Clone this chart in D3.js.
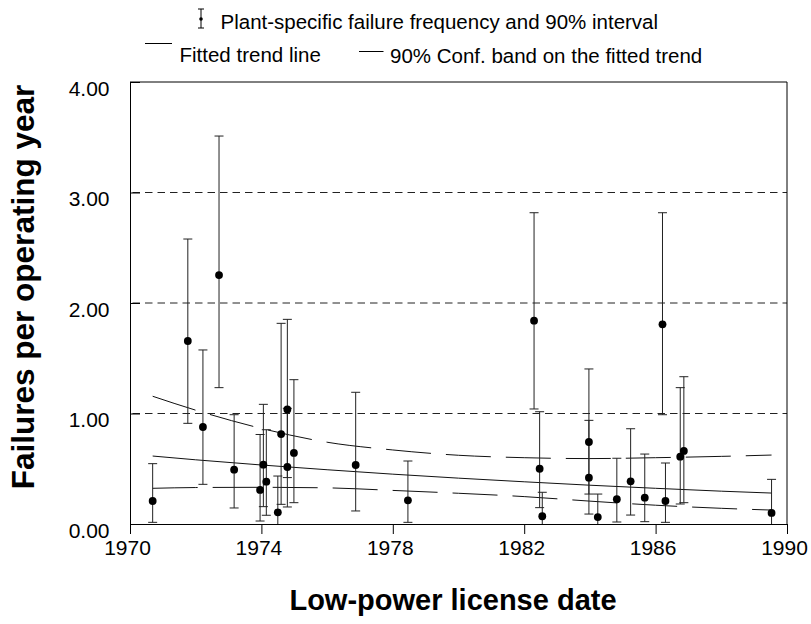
<!DOCTYPE html>
<html>
<head>
<meta charset="utf-8">
<script src="https://cdn.jsdelivr.net/npm/d3@7"></script>
<style>
  html, body { margin: 0; padding: 0; background: #fff; }
  svg { display: block; font-family: "Liberation Sans", Arial, sans-serif; }
</style>
</head>
<body>
<svg id="chart" width="811" height="624"></svg>
<script>
// ---- Data ----
const plantYears = [1970.69, 1971.76, 1972.22, 1972.71, 1973.17, 1973.96, 1974.06, 1974.15, 1974.50, 1974.60,
  1974.79, 1974.79, 1974.99, 1976.87, 1978.46, 1982.30, 1982.47, 1982.55, 1983.97, 1983.97,
  1984.24, 1984.82, 1985.24, 1985.67, 1986.21, 1986.30, 1986.75, 1986.86, 1989.53];
const plantFreq = [0.208, 1.656, 0.878, 2.253, 0.492, 0.308, 0.537, 0.383, 0.106, 0.814,
  1.037, 0.516, 0.643, 0.534, 0.214, 1.840, 0.500, 0.070, 0.742, 0.419,
  0.063, 0.224, 0.386, 0.238, 1.807, 0.208, 0.609, 0.661, 0.100];
const plantUpper = [0.546, 2.579, 1.575, 3.511, 0.989, 0.810, 1.083, 0.853, 0.434, 1.816,
  1.852, 1.047, 1.306, 1.192, 0.570, 2.817, 1.016, 0.287, 1.403, 0.938,
  0.271, 0.595, 0.862, 0.633, 2.817, 0.552, 1.234, 1.333, 0.404];
const plantLower = [0.015, 0.911, 0.359, 1.234, 0.145, 0.027, 0.157, 0.079, 0.000, 0.178,
  0.420, 0.154, 0.193, 0.118, 0.015, 1.041, 0.148, 0.000, 0.271, 0.090,
  0.000, 0.018, 0.081, 0.021, 0.989, 0.015, 0.181, 0.193, 0.000];

const trendYears = [1970.69, 1972, 1974, 1976, 1978, 1980, 1982, 1984, 1986, 1988, 1989.53];
const trendFit   = [0.615, 0.581, 0.534, 0.491, 0.451, 0.415, 0.382, 0.351, 0.323, 0.297, 0.280];
const bandUpper  = [1.156, 1.030, 0.865, 0.740, 0.670, 0.622, 0.600, 0.592, 0.600, 0.612, 0.624];
const bandLower  = [0.323, 0.330, 0.332, 0.327, 0.304, 0.278, 0.248, 0.207, 0.170, 0.142, 0.126];

const xTicks = [1970, 1974, 1978, 1982, 1986, 1990];
const yTicks = [0, 1, 2, 3, 4];
const gridValues = [1, 2, 3];

const legendLabels = ["Plant-specific failure frequency and 90% interval",
  "Fitted trend line", "90% Conf. band on the fitted trend"];
const xTitle = "Low-power license date";
const yTitle = "Failures per operating year";

// ---- Layout ----
const svg = d3.select("#chart");
const L = 130, R = 787, T = 82, B = 524;
const x = d3.scaleLinear().domain([1970, 1990]).range([L, R]);
const y = d3.scaleLinear().domain([0, 4]).range([B, T]);
const ink = "#000";

// grid (dashed)
svg.append("g").selectAll("line").data(gridValues).join("line")
  .attr("x1", L + 2.5).attr("x2", R)
  .attr("y1", d => y(d)).attr("y2", d => y(d))
  .attr("stroke", "#222").attr("stroke-width", 1)
  .attr("stroke-dasharray", "7.5,5");

// frame top & right
svg.append("line").attr("x1", L).attr("x2", R).attr("y1", T).attr("y2", T)
  .attr("stroke", ink).attr("stroke-width", 1);
svg.append("line").attr("x1", R).attr("x2", R).attr("y1", T).attr("y2", B)
  .attr("stroke", ink).attr("stroke-width", 1);

// y axis
const yAxis = svg.append("g").attr("transform", `translate(${L},0)`)
  .call(d3.axisLeft(y).tickValues(yTicks).tickSizeInner(-10).tickSizeOuter(0)
    .tickFormat(d3.format(".2f")).tickPadding(20));
yAxis.select(".domain").attr("stroke", ink);
yAxis.selectAll(".tick line").attr("stroke", ink);
yAxis.selectAll(".tick text").attr("font-size", 21).attr("fill", ink)
  .attr("font-family", "Liberation Sans, Arial, sans-serif")
  .attr("dy", "0.62em").attr("x", -20.5);

// x axis
const xAxis = svg.append("g").attr("transform", `translate(0,${B})`)
  .call(d3.axisBottom(x).tickValues(xTicks).tickSizeInner(10).tickSizeOuter(0)
    .tickFormat(d3.format("d")).tickPadding(6));
xAxis.select(".domain").attr("stroke", ink);
xAxis.selectAll(".tick line").attr("stroke", ink);
xAxis.selectAll(".tick text").attr("font-size", 21).attr("fill", ink)
  .attr("font-family", "Liberation Sans, Arial, sans-serif")
  .attr("dy", "0.71em").attr("dx", -3);

// trend lines
const trendRows = trendYears.map((t, i) => ({t, fit: trendFit[i], up: bandUpper[i], lo: bandLower[i]}));
const mk = key => d3.line().x(d => x(d.t)).y(d => y(d[key])).curve(d3.curveMonotoneX);
svg.append("path").datum(trendRows).attr("d", mk("fit"))
  .attr("fill", "none").attr("stroke", "#111").attr("stroke-width", 1);
svg.append("path").datum(trendRows).attr("d", mk("up"))
  .attr("fill", "none").attr("stroke", "#111").attr("stroke-width", 1)
  .attr("stroke-dasharray", "45,15");
svg.append("path").datum(trendRows).attr("d", mk("lo"))
  .attr("fill", "none").attr("stroke", "#111").attr("stroke-width", 1)
  .attr("stroke-dasharray", "45,15");

// error bars & points
const rows = plantYears.map((t, i) => ({t, v: plantFreq[i], hi: plantUpper[i], lo: plantLower[i]}));
const eb = svg.append("g").attr("stroke", "#222").attr("stroke-width", 1);
eb.selectAll("line.v").data(rows).join("line").attr("class", "v")
  .attr("x1", d => x(d.t)).attr("x2", d => x(d.t))
  .attr("y1", d => y(d.hi)).attr("y2", d => y(d.lo));
eb.selectAll("line.h").data(rows).join("line").attr("class", "h")
  .attr("x1", d => x(d.t) - 4.5).attr("x2", d => x(d.t) + 4.5)
  .attr("y1", d => y(d.hi)).attr("y2", d => y(d.hi));
eb.selectAll("line.l").data(rows.filter(d => d.lo > 0)).join("line").attr("class", "l")
  .attr("x1", d => x(d.t) - 4.5).attr("x2", d => x(d.t) + 4.5)
  .attr("y1", d => y(d.lo)).attr("y2", d => y(d.lo));
svg.append("g").selectAll("circle").data(rows).join("circle")
  .attr("cx", d => x(d.t)).attr("cy", d => y(d.v)).attr("r", 3.9).attr("fill", ink);

// legend
const lg = svg.append("g").attr("font-size", 20.5).attr("fill", ink);
lg.append("line").attr("x1", 201).attr("x2", 201).attr("y1", 9).attr("y2", 28).attr("stroke", ink);
lg.append("line").attr("x1", 198).attr("x2", 204).attr("y1", 9).attr("y2", 9).attr("stroke", ink);
lg.append("line").attr("x1", 198).attr("x2", 204).attr("y1", 28).attr("y2", 28).attr("stroke", ink);
lg.append("circle").attr("cx", 201).attr("cy", 19).attr("r", 1.8).attr("fill", ink);
lg.append("text").attr("x", 220.5).attr("y", 29).text(legendLabels[0]);
lg.append("line").attr("x1", 145).attr("x2", 172).attr("y1", 43.5).attr("y2", 43.5).attr("stroke", ink);
lg.append("text").attr("x", 179.5).attr("y", 61.5).text(legendLabels[1]);
lg.append("line").attr("x1", 359).attr("x2", 383.5).attr("y1", 51.5).attr("y2", 51.5).attr("stroke", ink);
lg.append("text").attr("x", 390).attr("y", 63.3).text(legendLabels[2]);

// axis titles
svg.append("text").attr("x", 453).attr("y", 610).attr("text-anchor", "middle")
  .attr("font-size", 29).attr("font-weight", "bold").attr("fill", ink).text(xTitle);
svg.append("text").attr("transform", "translate(34,287) rotate(-90)").attr("text-anchor", "middle")
  .attr("font-size", 31.5).attr("font-weight", "bold").attr("fill", ink).text(yTitle);
</script>
</body>
</html>
